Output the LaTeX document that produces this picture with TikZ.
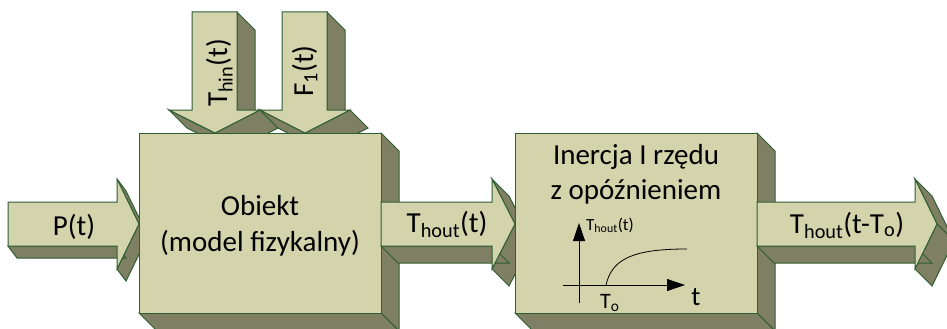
\documentclass[tikz,border=0pt]{standalone}
\usepackage{fontspec}
\setmainfont{Carlito}
\usetikzlibrary{calc,arrows.meta}
\definecolor{frontc}{HTML}{D3D3AC}
\definecolor{sidec}{HTML}{7F7F63}
\definecolor{edgec}{HTML}{2F5E33}
\newcommand\sq[3]{\filldraw[faceside] #1 -- #2 -- ($#2+#3$) -- ($#1+#3$) -- cycle;}
\begin{document}
\begin{tikzpicture}[x=1pt,y=-1pt,
  facefront/.style={fill=frontc,draw=edgec,line width=1pt,line join=miter},
  faceside/.style={fill=sidec,draw=edgec,line width=1pt,line join=miter},
  lbl/.style={font=\fontsize{29}{35}\selectfont,inner sep=0pt},
  axis/.style={line width=0.8pt,-{Triangle[length=18pt,width=12pt]}}]
\clip (0,0) rectangle (947,329);
\fill[white] (0,0) rectangle (947,329);

% ---- P(t) arrow
\sq{(117,179)}{(139,224)}{(9,12)}
\sq{(139,224)}{(117,269)}{(9,12)}
\sq{(117,246)}{(8,246)}{(9,12)}
\filldraw[facefront] (8,202) -- (117,202) -- (117,179) -- (139,224) -- (117,269) -- (117,246) -- (8,246) -- cycle;

% ---- T_hin arrow
\sq{(237,12)}{(237,110)}{(18,18)}
\sq{(260,110)}{(215,133)}{(18,18)}
\sq{(215,133)}{(169,110)}{(18,18)}
\filldraw[facefront] (192,12) -- (237,12) -- (237,110) -- (260,110) -- (215,133) -- (169,110) -- (192,110) -- cycle;

% ---- F1 arrow
\sq{(327,12)}{(327,110)}{(18,18)}
\sq{(350,110)}{(305,133)}{(18,18)}
\sq{(305,133)}{(260,110)}{(18,18)}
\filldraw[facefront] (282,12) -- (327,12) -- (327,110) -- (350,110) -- (305,133) -- (260,110) -- (282,110) -- cycle;

% ---- box 1
\coordinate (b1nw) at (139,133); \coordinate (b1ne) at (381,133);
\coordinate (b1se) at (381,313); \coordinate (b1sw) at (139,313);
\sq{(b1ne)}{(b1se)}{(18,18)}
\sq{(b1se)}{(b1sw)}{(18,18)}
\filldraw[facefront] (b1nw) -- (b1ne) -- (b1se) -- (b1sw) -- cycle;

% ---- T_hout arrow
\sq{(492,179)}{(515,224)}{(17,17)}
\sq{(515,224)}{(492,269)}{(17,17)}
\sq{(492,246)}{(381,246)}{(17,17)}
\filldraw[facefront] (381,202) -- (492,202) -- (492,179) -- (515,224) -- (492,269) -- (492,246) -- (381,246) -- cycle;

% ---- box 2
\coordinate (b2nw) at (515,133); \coordinate (b2ne) at (757,133);
\coordinate (b2se) at (757,313); \coordinate (b2sw) at (515,313);
\sq{(b2ne)}{(b2se)}{(18,18)}
\sq{(b2se)}{(b2sw)}{(18,18)}
\filldraw[facefront] (b2nw) -- (b2ne) -- (b2se) -- (b2sw) -- cycle;

% ---- final arrow
\sq{(915,179)}{(937,224)}{(17,17)}
\sq{(937,224)}{(915,269)}{(17,17)}
\sq{(915,246)}{(757,246)}{(17,17)}
\filldraw[facefront] (757,202) -- (915,202) -- (915,179) -- (937,224) -- (915,269) -- (915,246) -- (757,246) -- cycle;

% ---- texts
\node[lbl,anchor=base] (pt) at (74,235) {P(t)};
\node[lbl,anchor=base west,rotate=90] (thin) at (227,107) {T\textsubscript{hin}(t)};
\node[lbl,anchor=base west,rotate=90] (f1) at (313,97) {F\textsubscript{1}(t)};
\node[lbl,anchor=base] (obj1) at (260,215) {Obiekt};
\node[lbl,anchor=base] (obj2) at (260,251) {(model fizykalny)};
\node[lbl,anchor=base] (thout) at (447,232) {T\textsubscript{hout}(t)};
\node[lbl,anchor=base] (in1) at (636,164) {Inercja I rzędu};
\node[lbl,anchor=base] (in2) at (636,199) {z opóźnieniem};
\node[lbl,anchor=base] (thoutd) at (847,233) {T\textsubscript{hout}(t-T\textsubscript{o})};

% ---- step response graph
\coordinate (yb) at (579,303); \coordinate (yt) at (579,223);
\coordinate (xl) at (563,285); \coordinate (xr) at (685,285);
\draw[axis] (yb) -- (yt);
\draw[axis] (xl) -- (xr);
\draw[line width=0.8pt] (606,285) .. controls (612,258) and (635,249) .. (687,249);
\node[font=\fontsize{17}{20}\selectfont,anchor=base west,inner sep=0pt] (gl) at (586,230) {T\textsubscript{hout}(t)};
\node[font=\fontsize{22}{26}\selectfont,anchor=base west,inner sep=0pt] (to) at (600,308) {T\textsubscript{o}};
\node[font=\fontsize{27}{30}\selectfont,anchor=base,inner sep=0pt] (tl) at (696,305) {t};
\end{tikzpicture}
\end{document}
